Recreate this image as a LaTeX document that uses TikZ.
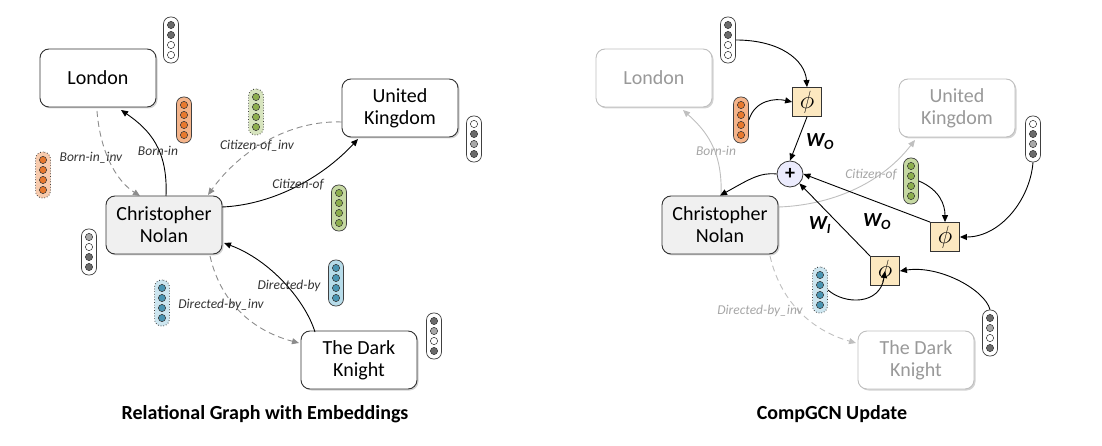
\documentclass[tikz,border=0pt]{standalone}
\usepackage{fontspec}
\setmainfont{Carlito}
\usetikzlibrary{arrows.meta,shadows}
\definecolor{dk}{HTML}{6B6B6B}
\definecolor{md}{HTML}{A8A8A8}
\definecolor{wh}{HTML}{FFFFFF}
\definecolor{orP}{HTML}{F5B48A}\definecolor{orC}{HTML}{E8792E}
\definecolor{grP}{HTML}{C6D9A2}\definecolor{grC}{HTML}{8DAE4E}
\definecolor{blP}{HTML}{B7DCEA}\definecolor{blC}{HTML}{4A95B3}
\definecolor{phiF}{HTML}{FCE8C0}
\tikzset{
 ent/.style={draw=black!80,line width=0.9pt,rounded corners=9pt,minimum width=116pt,minimum height=58pt,fill=white,align=center,font=\fontsize{20}{22}\selectfont,drop shadow={opacity=0.35,shadow xshift=1.5pt,shadow yshift=-1.5pt}},
 cn/.style={ent,fill=black!6},
 faded/.style={ent,draw=black!25,text=black!40},
 pill/.style={draw=black!75,line width=0.7pt,rounded corners=7pt,minimum width=15pt,minimum height=46pt,inner sep=0pt},
 dpill/.style={pill,dotted,line width=0.9pt},
 rel/.style={font=\fontsize{13.5}{15}\selectfont\itshape,text=black!80},
 frel/.style={font=\fontsize{13.5}{15}\selectfont\itshape,text=black!35},
 sol/.style={black,line width=0.9pt,-{Triangle[length=7pt,width=6pt]}},
 dsh/.style={black!45,line width=0.9pt,dash pattern=on 6pt off 4pt,-{Triangle[length=7pt,width=6pt]}},
 fsol/.style={black!25,line width=0.9pt,-{Triangle[length=7pt,width=6pt]}},
 fdsh/.style={black!25,line width=0.9pt,dash pattern=on 6pt off 4pt,-{Triangle[length=7pt,width=6pt]}},
 phi/.style={draw=black!80,fill=phiF,line width=0.8pt,minimum size=29pt,inner sep=0pt,font=\fontsize{28}{28}\selectfont},
 ww/.style={font=\fontsize{20}{20}\selectfont\bfseries\itshape},
 ttl/.style={font=\fontsize{20}{22}\selectfont\bfseries},
}
\newcommand\vpill[9]{%
 \node[#4,fill=#5] (#1) at (#2,#3) {};
 \foreach \k/\c in {-15/#6,-5/#7,5/#8,15/#9}{\fill[\c,draw=black!80,line width=0.5pt] (#2,#3+\k) circle (3.6pt);}
}
\begin{document}
\begin{tikzpicture}[x=1pt,y=-1pt]
\useasboundingbox (0,0) rectangle (1102,446);
% ---------------- left panel
\node[ent] (L) at (98,78) {London};
\node[ent] (U) at (400,108) {United\\Kingdom};
\node[cn] (C) at (164,225) {Christopher\\Nolan};
\node[ent] (T) at (359,360) {The Dark\\Knight};
\vpill{vL}{171}{40}{pill}{white}{dk}{dk}{wh}{wh}
\vpill{vU}{474}{139}{pill}{white}{wh}{dk}{md}{dk}
\vpill{vC}{89}{252}{pill}{white}{md}{wh}{dk}{dk}
\vpill{vT}{434}{336}{pill}{white}{dk}{md}{wh}{dk}
\vpill{vo}{184}{120}{pill}{orP}{orC}{orC}{orC}{orC}
\vpill{vod}{43}{175}{dpill}{orP!70}{orC}{orC}{orC}{orC}
\vpill{vg}{339}{208}{pill}{grP}{grC}{grC}{grC}{grC}
\vpill{vgd}{256}{112}{dpill}{grP!70}{grC}{grC}{grC}{grC}
\vpill{vb}{336}{283}{pill}{blP}{blC}{blC}{blC}{blC}
\vpill{vbd}{162}{303}{dpill}{blP!70}{blC}{blC}{blC}{blC}
\coordinate (c1) at (166,196); \coordinate (l1) at (121,110);
\draw[sol] (c1) .. controls (168,150) and (150,130) .. (l1);
\node[rel] (nb) at (158,151) {Born-in};
\coordinate (l2) at (97,111); \coordinate (c2) at (140,196);
\draw[dsh] (l2) .. controls (100,150) and (115,180) .. (c2);
\node[rel] (nbi) at (91,158) {Born-in\_inv};
\coordinate (u3) at (342,122); \coordinate (c3) at (208,195);
\draw[dsh] (u3) .. controls (290,120) and (240,150) .. (c3);
\node[rel] (nci) at (257,146) {Citizen-of\_inv};
\coordinate (c4) at (222,207); \coordinate (u4) at (358,139);
\draw[sol] (c4) .. controls (270,205) and (320,180) .. (u4);
\node[rel] (nc) at (298,185) {Citizen-of};
\coordinate (t5) at (315,332); \coordinate (c5) at (224,243);
\draw[sol] (t5) .. controls (305,300) and (270,260) .. (c5);
\node[rel] (nd) at (289,286) {Directed-by};
\coordinate (c6) at (210,256); \coordinate (t6) at (299,343);
\draw[dsh] (c6) .. controls (220,300) and (250,330) .. (t6);
\node[rel] (ndi) at (221,305) {Directed-by\_inv};
\node[ttl] (t1) at (265,414) {Relational Graph with Embeddings};
% ---------------- right panel
\node[faded] (L2) at (654,78) {London};
\node[faded] (U2) at (957,108) {United\\Kingdom};
\node[faded] (T2) at (916,360) {The Dark\\Knight};
\coordinate (d1) at (721,196); \coordinate (d2) at (683,110);
\draw[fsol] (d1) .. controls (723,150) and (705,130) .. (d2);
\node[frel] (nb2) at (716,151) {Born-in};
\coordinate (d3) at (779,207); \coordinate (d4) at (915,140);
\draw[fsol] (d3) .. controls (830,205) and (880,185) .. (d4);
\node[frel] (nc2) at (871,175) {Citizen-of};
\coordinate (d5) at (770,256); \coordinate (d6) at (856,343);
\draw[fdsh] (d5) .. controls (780,300) and (810,330) .. (d6);
\node[frel] (ndi2) at (760,311) {Directed-by\_inv};
\node[cn] (C2) at (720,225) {Christopher\\Nolan};
\node[phi] (p1) at (807,102) {$\phi$};
\node[phi] (p2) at (945,237) {$\phi$};
\node[phi] (p3) at (885,271) {$\phi$};
\node[circle,draw=black!80,fill=black!12!blue!8,line width=0.8pt,minimum size=26pt,inner sep=0pt,font=\fontsize{20}{20}\selectfont\bfseries] (pl) at (790,174) {+};
\vpill{wL}{728}{40}{pill}{white}{dk}{dk}{wh}{wh}
\vpill{wU}{1033}{139}{pill}{white}{wh}{dk}{md}{dk}
\vpill{wT}{990}{333}{pill}{white}{dk}{md}{wh}{dk}
\vpill{wo}{741}{120}{pill}{orP}{orC}{orC}{orC}{orC}
\vpill{wg}{911}{181}{pill}{grP}{grC}{grC}{grC}{grC}
\vpill{wbd}{820}{290}{dpill}{blP!70}{blC}{blC}{blC}{blC}
\draw[sol] (wL.east) .. controls (780,40) and (805,60) .. (p1.north);
\draw[sol] (wo.east) .. controls (755,100) and (775,98) .. (p1.west);
\draw[sol] (p1.south) -- (pl.north);
\node[ww] (w1) at (820,142) {W\textsubscript{O}};
\draw[sol] (p2.north west) -- (pl.east);
\node[ww] (w2) at (877,222) {W\textsubscript{O}};
\draw[sol] (p3.north west) -- (pl.south east);
\node[ww] (w3) at (820,225) {W\textsubscript{I}};
\draw[sol] (wg.east) .. controls (940,190) and (945,205) .. (p2.north);
\draw[sol] (wU.south) .. controls (1030,200) and (1000,237) .. (p2.east);
\draw[sol] (wbd.east) .. controls (845,305) and (880,305) .. (p3.center);
\draw[sol] (wT.north) .. controls (985,290) and (940,265) .. (p3.east);
\draw[sol] (pl.west) .. controls (760,172) and (748,180) .. (C2.north);
\node[ttl] (t2) at (832,414) {CompGCN Update};
\end{tikzpicture}
\end{document}
